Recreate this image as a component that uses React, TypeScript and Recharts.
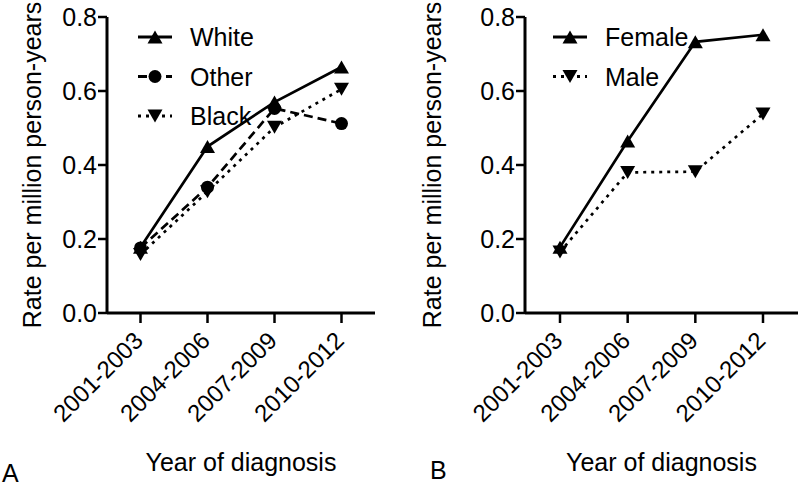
import { LineChart, Line, XAxis, YAxis, Legend } from 'recharts';

// Year groups on the x axis
const periods = ['2001-2003', '2004-2006', '2007-2009', '2010-2012'];

// Panel A: rate by race
const white = [0.178, 0.45, 0.57, 0.665];
const other = [0.176, 0.34, 0.553, 0.512];
const black = [0.158, 0.328, 0.502, 0.605];

// Panel B: rate by sex
const female = [0.178, 0.465, 0.733, 0.752];
const male = [0.165, 0.38, 0.382, 0.538];

const yTicks = [0, 0.2, 0.4, 0.6, 0.8];

const FONT = '"Liberation Sans", Arial, Helvetica, sans-serif';
const INK = '#000';

type Kind = 'up' | 'down' | 'circle';

interface SeriesDef {
  key: string;
  name: string;
  kind: Kind;
  dash?: string;
}

const raceSeries: SeriesDef[] = [
  { key: 'white', name: 'White', kind: 'up' },
  { key: 'other', name: 'Other', kind: 'circle', dash: '9 5' },
  { key: 'black', name: 'Black', kind: 'down', dash: '3 5' },
];

const sexSeries: SeriesDef[] = [
  { key: 'female', name: 'Female', kind: 'up' },
  { key: 'male', name: 'Male', kind: 'down', dash: '3 5' },
];

const raceData = periods.map((period, i) => ({
  period,
  white: white[i],
  other: other[i],
  black: black[i],
}));

const sexData = periods.map((period, i) => ({
  period,
  female: female[i],
  male: male[i],
}));

const Marker = ({ kind, cx, cy }: { kind: Kind; cx: number; cy: number }) => {
  const s = 15;
  const h = 13;
  if (kind === 'circle') return <circle cx={cx} cy={cy} r={6.5} fill={INK} />;
  if (kind === 'up') {
    return (
      <path
        d={`M${cx},${cy - h / 2}L${cx + s / 2},${cy + h / 2}L${cx - s / 2},${cy + h / 2}Z`}
        fill={INK}
      />
    );
  }
  return (
    <path
      d={`M${cx},${cy + h / 2}L${cx + s / 2},${cy - h / 2}L${cx - s / 2},${cy - h / 2}Z`}
      fill={INK}
    />
  );
};

const makeDot = (kind: Kind) => (props: any) => {
  const { cx, cy, index } = props;
  if (cx == null || cy == null) return <g key={`e-${index}`} />;
  return <Marker key={`${kind}-${index}`} kind={kind} cx={cx} cy={cy} />;
};

const XTick = (props: any) => {
  const { x, y, payload } = props;
  const tx = x + 4;
  const ty = y + 17;
  return (
    <text
      x={tx}
      y={ty}
      transform={`rotate(-45, ${tx}, ${ty})`}
      textAnchor="end"
      fontSize={24}
      fontFamily={FONT}
      fill={INK}
    >
      {payload.value}
    </text>
  );
};

const legendContent = (series: SeriesDef[]) => () => (
  <svg width={160} height={130} style={{ display: 'block' }}>
    {series.map((s, i) => {
      const cy = 27 + i * 39.5;
      return (
        <g key={s.key}>
          <line x1={8} x2={42} y1={cy} y2={cy} stroke={INK} strokeWidth={3} strokeDasharray={s.dash} />
          <Marker kind={s.kind} cx={25} cy={cy} />
          <text x={60} y={cy} dominantBaseline="central" fontSize={25} fontFamily={FONT} fill={INK}>
            {s.name}
          </text>
        </g>
      );
    })}
  </svg>
);

const yTitle = (props: any) => {
  const vb = props.viewBox;
  const x = vb.x + 32;
  const y = vb.y + vb.height / 2;
  return (
    <text
      x={x}
      y={y}
      transform={`rotate(-90, ${x}, ${y})`}
      textAnchor="middle"
      dominantBaseline="central"
      fontSize={25}
      fontFamily={FONT}
      fill={INK}
    >
      Rate per million person-years
    </text>
  );
};

const xTitle = (letter: string, letterX: number, letterY: number) => (props: any) => {
  const vb = props.viewBox;
  return (
    <g>
      <text
        x={vb.x + vb.width / 2}
        y={vb.y + 149}
        textAnchor="middle"
        dominantBaseline="central"
        fontSize={25}
        fontFamily={FONT}
        fill={INK}
      >
        Year of diagnosis
      </text>
      <text x={letterX} y={letterY} dominantBaseline="central" fontSize={25} fontFamily={FONT} fill={INK}>
        {letter}
      </text>
    </g>
  );
};

interface PanelProps {
  data: any[];
  series: SeriesDef[];
  yWidth: number;
  rightMargin: number;
  pad: number;
  letter: string;
  letterX: number;
  letterY: number;
  legendLeft: number;
}

const Panel = ({ data, series, yWidth, rightMargin, pad, letter, letterX, letterY, legendLeft }: PanelProps) => (
  <LineChart
    width={400}
    height={488}
    data={data}
    margin={{ top: 17, right: rightMargin, left: 0, bottom: 0 }}
  >
    <XAxis
      dataKey="period"
      interval={0}
      padding={{ left: pad, right: pad }}
      height={175}
      tickSize={10}
      tickMargin={2}
      axisLine={{ stroke: INK, strokeWidth: 3 }}
      tickLine={{ stroke: INK, strokeWidth: 2.5 }}
      tick={<XTick />}
      label={{ content: xTitle(letter, letterX, letterY) }}
    />
    <YAxis
      width={yWidth}
      domain={[0, 0.8]}
      ticks={yTicks}
      tickSize={9}
      tickMargin={1}
      tickFormatter={(v: number) => v.toFixed(1)}
      axisLine={{ stroke: INK, strokeWidth: 3 }}
      tickLine={{ stroke: INK, strokeWidth: 2.5 }}
      tick={{ fontSize: 25, fontFamily: FONT, fill: INK }}
      label={{ content: yTitle }}
    />
    <Legend
      layout="vertical"
      align="center"
      verticalAlign="middle"
      wrapperStyle={{ left: legendLeft, top: 10, width: 160 }}
      content={legendContent(series)}
    />
    {series.map((s) => (
      <Line
        key={s.key}
        dataKey={s.key}
        name={s.name}
        type="linear"
        stroke={INK}
        strokeWidth={2.7}
        strokeDasharray={s.dash}
        dot={makeDot(s.kind)}
        activeDot={false}
        isAnimationActive={false}
      />
    ))}
  </LineChart>
);

export default function App() {
  return (
    <div
      style={{
        position: 'absolute',
        left: 0,
        top: 0,
        width: 800,
        height: 488,
        display: 'flex',
        background: '#fff',
      }}
    >
      <Panel
        data={raceData}
        series={raceSeries}
        yWidth={107}
        rightMargin={25}
        pad={33.5}
        letter="A"
        letterX={2}
        letterY={473}
        legendLeft={130}
      />
      <Panel
        data={sexData}
        series={sexSeries}
        yWidth={125}
        rightMargin={2}
        pad={35}
        letter="B"
        letterX={30}
        letterY={470}
        legendLeft={145}
      />
    </div>
  );
}
